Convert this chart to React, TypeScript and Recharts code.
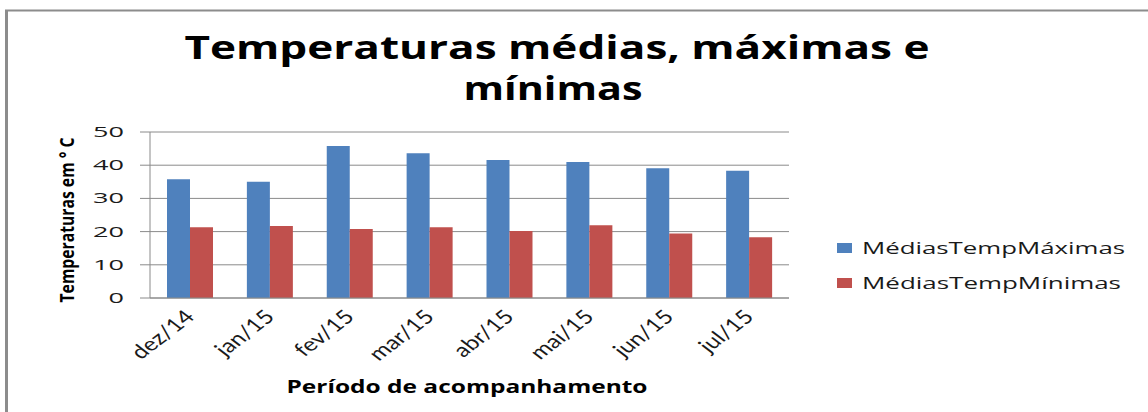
import React from "react";
import { BarChart, Bar, XAxis, YAxis, CartesianGrid, Legend, Label } from "recharts";

const months = ["dez/14", "jan/15", "fev/15", "mar/15", "abr/15", "mai/15", "jun/15", "jul/15"];
const maxTemps = [35.8, 35.0, 45.8, 43.6, 41.6, 41.0, 39.1, 38.3];
const minTemps = [21.3, 21.7, 20.8, 21.3, 20.2, 21.9, 19.4, 18.3];
const yTicks = [0, 10, 20, 30, 40, 50];

const data = months.map((m, i) => ({
  month: m,
  max: maxTemps[i],
  min: minTemps[i],
}));

const BLUE = "#4f81bd";
const RED = "#c0504d";
const GRID = "#8a8a8a";

function YTick(props: any) {
  const { x, y, payload } = props;
  const label = String(payload.value);
  return (
    <text
      x={x}
      y={y + 5}
      textAnchor="end"
      fontFamily="'Open Sans', sans-serif"
      fontSize={14}
      fill="#1a1a1a"
      textLength={label.length * 15.5}
      lengthAdjust="spacingAndGlyphs"
    >
      {label}
    </text>
  );
}

function XTick(props: any) {
  const { x, y, payload } = props;
  return (
    <text
      transform={`translate(${x + 6}, ${y + 12}) scale(1.3, 1) rotate(-45)`}
      textAnchor="end"
      fontFamily="Lato, sans-serif"
      fontSize={19}
      fill="#1a1a1a"
    >
      {payload.value}
    </text>
  );
}

function renderLegend(props: any) {
  const items = props.payload || [];
  return (
    <svg width={310} height={70}>
      {items.map((it: any, i: number) => (
        <g key={i}>
          <rect x={7} y={8 + i * 35} width={15} height={10} fill={it.color} />
          <text
            x={32}
            y={19 + i * 35}
            fontFamily="'Open Sans', sans-serif"
            fontSize={16}
            fill="#1a1a1a"
            textLength={i === 0 ? 263 : 259}
            lengthAdjust="spacingAndGlyphs"
          >
            {it.value}
          </text>
        </g>
      ))}
    </svg>
  );
}

export default function App() {
  return (
    <div style={{ position: "absolute", left: 0, top: 0, width: 1148, height: 412, background: "#fff" }}>
      <BarChart
        width={1148}
        height={412}
        data={data}
        margin={{ top: 132, right: 359, left: 90, bottom: 54 }}
        barGap={0}
      >
        <CartesianGrid vertical={false} stroke={GRID} strokeWidth={1} />
        <XAxis
          dataKey="month"
          height={60}
          stroke={GRID}
          tickLine={false}
          tick={<XTick />}
          interval={0}
        >
          <Label
            content={() => (
              <text
                x={467}
                y={393}
                textAnchor="middle"
                fontFamily="'Open Sans', sans-serif"
                fontWeight={700}
                fontSize={17}
                fill="#000"
                textLength={361}
                lengthAdjust="spacingAndGlyphs"
              >
                Período de acompanhamento
              </text>
            )}
          />
        </XAxis>
        <YAxis
          width={60}
          domain={[0, 50]}
          ticks={yTicks}
          stroke={GRID}
          tickSize={10}
          tickMargin={16}
          tick={<YTick />}
        >
          <Label
            content={() => (
              <text
                transform="translate(74, 220) rotate(-90)"
                textAnchor="middle"
                fontFamily="'Open Sans', sans-serif"
                fontWeight={700}
                fontSize={20}
                fill="#000"
                textLength={165}
                lengthAdjust="spacingAndGlyphs"
              >
                Temperaturas em ° C
              </text>
            )}
          />
        </YAxis>
        <Legend
          layout="vertical"
          verticalAlign="middle"
          align="center"
          content={renderLegend}
          wrapperStyle={{ position: "absolute", left: 830, top: 235, width: 310 }}
        />
        <Bar dataKey="max" name="MédiasTempMáximas" fill={BLUE} barSize={23} isAnimationActive={false} />
        <Bar dataKey="min" name="MédiasTempMínimas" fill={RED} barSize={23} isAnimationActive={false} />
      </BarChart>
      <svg
        width={1148}
        height={412}
        style={{ position: "absolute", left: 0, top: 0, pointerEvents: "none" }}
      >
        <line x1={6.5} y1={10} x2={6.5} y2={412} stroke="#8c8c8c" strokeWidth={3} />
        <line x1={5} y1={10.5} x2={1148} y2={10.5} stroke="#8c8c8c" strokeWidth={2} />
        <text
          x={557}
          y={59}
          textAnchor="middle"
          fontFamily="'Open Sans', sans-serif"
          fontWeight={700}
          fontSize={32}
          fill="#000"
          textLength={745}
          lengthAdjust="spacingAndGlyphs"
        >
          Temperaturas médias, máximas e
        </text>
        <text
          x={553}
          y={100}
          textAnchor="middle"
          fontFamily="'Open Sans', sans-serif"
          fontWeight={700}
          fontSize={32}
          fill="#000"
          textLength={179}
          lengthAdjust="spacingAndGlyphs"
        >
          mínimas
        </text>
      </svg>
    </div>
  );
}
